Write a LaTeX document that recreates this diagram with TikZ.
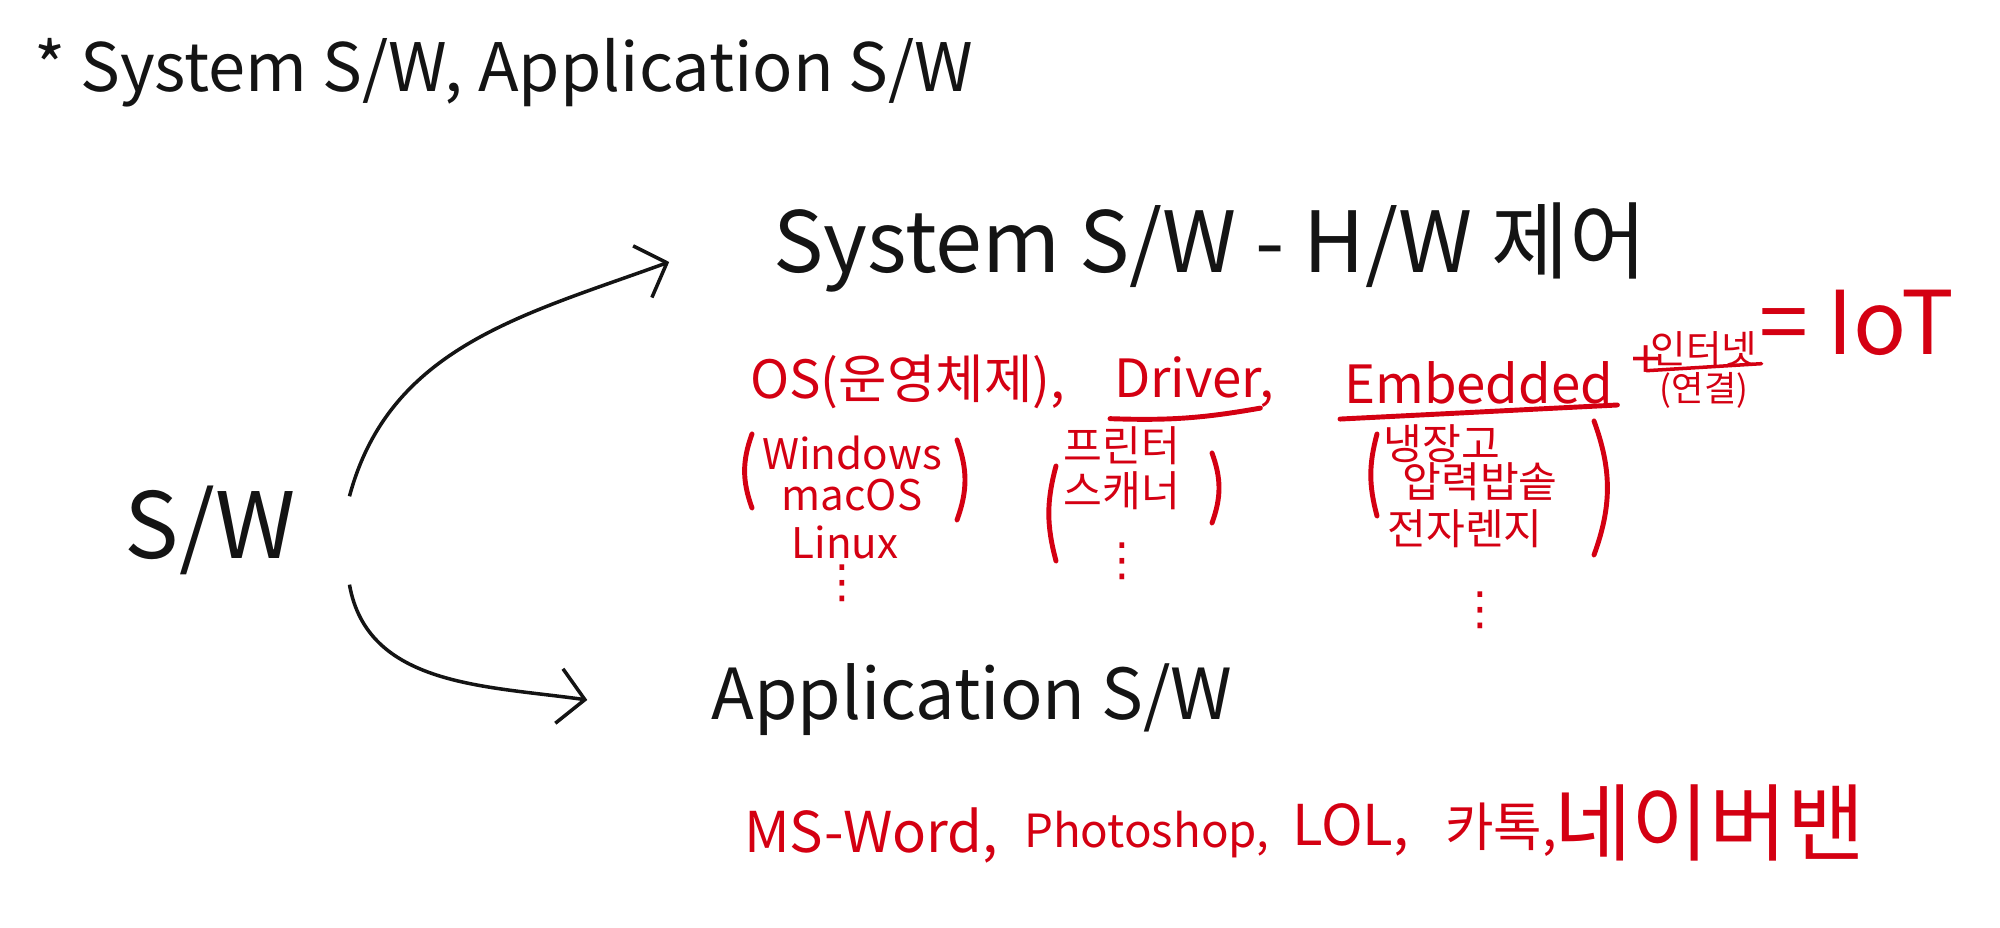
\documentclass[tikz,border=0pt]{standalone}
\usepackage{fontspec}
\setmainfont{Noto Sans CJK KR}
\newfontfamily\symfont{DejaVu Sans}
\usepackage{xcolor}
\usepackage{tikz}
\usetikzlibrary{arrows.meta}

\definecolor{pen}{RGB}{20,20,20}
\definecolor{redpen}{RGB}{212,0,18}

\begin{document}
\begin{tikzpicture}[
  ink/.style={text=pen, inner sep=1pt},
  redink/.style={text=redpen, inner sep=1pt, font=\fontsize{15}{18}\selectfont},
  item/.style={text=redpen, inner sep=0pt, font=\fontsize{12}{13.5}\selectfont},
  more/.style={text=redpen, inner sep=0pt, font=\symfont\fontsize{13}{15}\selectfont},
  branch/.style={draw=pen, line width=1pt, -{Straight Barb[length=2.6mm,width=5.5mm]}},
  stroke/.style={draw=redpen, line width=1.4pt, line cap=round}
]
\useasboundingbox (0,0) rectangle (20,9.28);

% title
\node[ink, anchor=west, font=\fontsize{19}{22}\selectfont] (title) at (0.30,8.55) {* System S/W, Application S/W};

% root and the two kinds
\node[ink, font=\fontsize{26}{30}\selectfont] (sw) at (2.10,3.98) {S/W};
\node[ink, font=\fontsize{24}{28}\selectfont] (sys) at (12.10,6.80) {System S/W - H/W 제어};
\node[ink, font=\fontsize{20}{24}\selectfont] (app) at (9.72,2.28) {Application S/W};

\draw[branch] ([xshift=5mm,yshift=-1.5mm]sw.north east) to[out=75,in=200] ([xshift=-10mm,yshift=-1.4mm]sys.west);
\draw[branch] ([xshift=5mm,yshift=-0.6mm]sw.south east) to[out=-80,in=172] ([xshift=-12mm]app.west);

% system s/w examples
\node[redink, anchor=west] (os) at (7.46,5.46) {OS(운영체제),};
\node[redink, anchor=west] (drv) at (11.10,5.46) {Driver,};
\node[redink, anchor=west] (emb) at (13.40,5.45) {Embedded};
\node[redink] (plus) at (16.46,5.66) {+};
\node[redink, font=\fontsize{11}{13}\selectfont] (net) at (17.04,5.79) {인터넷};
\node[redink, font=\fontsize{10}{12}\selectfont] (link) at (17.04,5.38) {(연결)};
\node[redink, anchor=west, font=\fontsize{25}{29}\selectfont] (iot) at (17.55,6.05) {= IoT};

% underlines
\draw[stroke] ([yshift=-2pt]drv.south west) to[bend right=6] ([xshift=-5pt,yshift=1pt]drv.south east);
\draw[stroke] ([yshift=-3pt]emb.south west) -- ([yshift=1pt]emb.south east);
\draw[stroke, line width=1pt] (net.south west) -- ([yshift=2pt]net.south east);

% lists under each
\node[item] (win) at (8.52,4.75) {Windows};
\node[item] (mac) at (8.52,4.33) {macOS};
\node[item] (lnx) at (8.45,3.86) {Linux};
\node[more] (osmore) at (8.42,3.45) {⋮};

\node[item] (prn) at (11.22,4.82) {프린터};
\node[item] (scn) at (11.22,4.37) {스캐너};
\node[more] (drvmore) at (11.22,3.67) {⋮};

\node[item] (frg) at (14.42,4.84) {냉장고};
\node[item] (cook) at (14.80,4.46) {압력밥솥};
\node[item] (oven) at (14.65,3.99) {전자렌지};
\node[more] (embmore) at (14.80,3.18) {⋮};

% brackets round the lists
\draw[stroke] (7.52,4.94) to[bend right=20] (7.52,4.20);
\draw[stroke] (9.57,4.88) to[bend left=20] (9.57,4.08);
\draw[stroke] (10.56,4.62) to[bend right=15] (10.56,3.67);
\draw[stroke] (12.12,4.75) to[bend left=20] (12.12,4.05);
\draw[stroke] (13.77,4.94) to[bend right=15] (13.77,4.12);
\draw[stroke] (15.94,5.07) to[bend left=20] (15.94,3.73);

% application s/w examples
\node[redink, anchor=west, font=\fontsize{16}{19}\selectfont] (word) at (7.40,0.93) {MS-Word,};
\node[redink, anchor=west, font=\fontsize{13}{16}\selectfont] (shop) at (10.20,0.93) {Photoshop,};
\node[redink, anchor=west, font=\fontsize{16}{19}\selectfont] (lol) at (12.88,0.98) {LOL,};
\node[redink, anchor=west] (talk) at (14.41,0.98) {카톡,};
\node[redink, anchor=west, font=\fontsize{24}{28}\selectfont] (band) at (15.50,1.05) {네이버밴};

\end{tikzpicture}
\end{document}
